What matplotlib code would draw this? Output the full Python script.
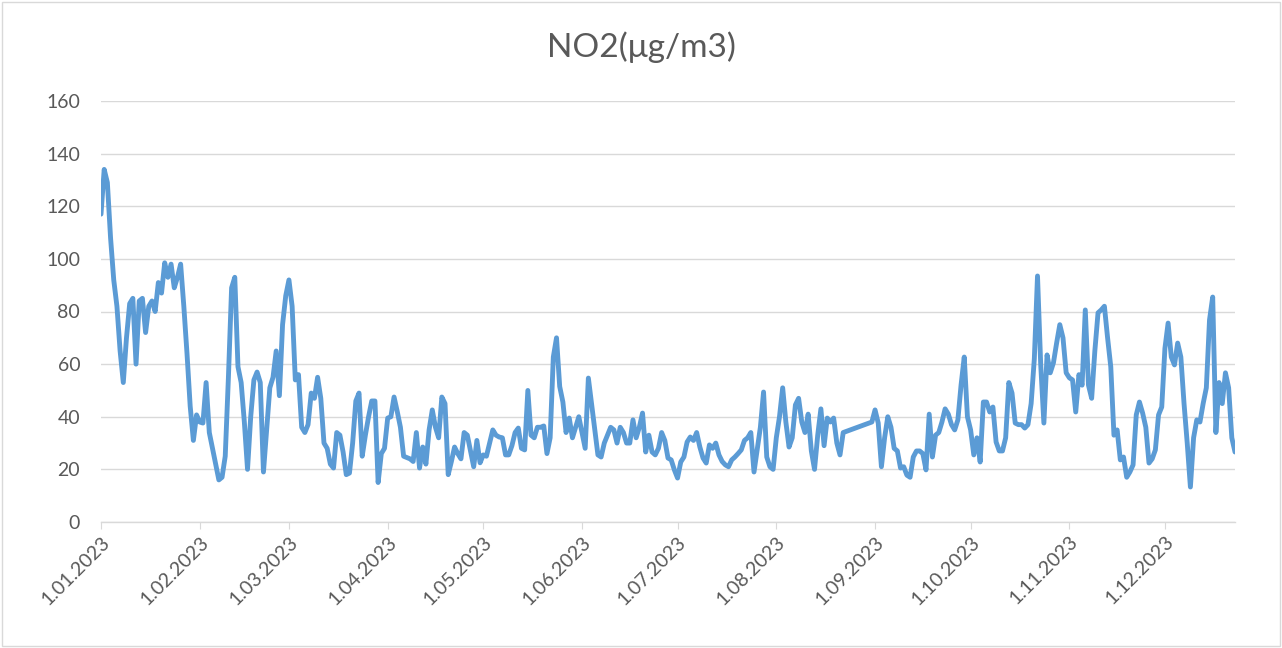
"""NO2 daily concentration chart, 2023 (Excel-style line chart)."""

import matplotlib

matplotlib.use("Agg")
import matplotlib.pyplot as plt
import pandas as pd
from matplotlib.patches import Rectangle

TITLE = "NO2(μg/m3)"

# Jan 1 .. Aug 22 (daily)
no2_part1 = [
    117, 134, 129, 108, 92, 82, 65, 53, 70, 83,
    85, 60, 84, 85, 72, 82, 84, 80, 91, 87,
    98.5, 93, 98, 89, 93, 98, 82, 64, 44, 31,
    40.7, 38, 37.6, 53, 34, 28, 22, 16, 17, 25,
    55, 89, 93, 59, 53, 38, 20, 40, 54, 57,
    53, 19, 35, 51, 55, 65, 48, 75, 86, 92,
    82, 54, 56, 36, 34, 37, 49, 47, 55, 47,
    30, 28, 22, 20.5, 34, 33, 26.6, 18, 18.6, 30,
    46, 49, 25, 33, 40, 46, 46, 15, 26, 28,
    39.5, 40, 47.5, 42, 36, 25, 24.5, 24, 23, 34,
    20.5, 28.5, 22, 35, 42.6, 36, 32, 47.5, 45, 18,
    23, 28.5, 26, 24, 34, 33, 27, 21, 31, 22.5,
    25.5, 25, 30, 35, 33, 32.3, 32, 25.5, 25.5, 29,
    34, 35.7, 28, 27.4, 50, 33, 32, 36, 36, 36.5,
    26, 32, 62.7, 70, 51.5, 45.6, 34, 39.5, 32, 36,
    40, 34, 28, 54.7, 45, 35, 25.5, 24.7, 30, 33,
    36, 35, 30, 36, 34, 30, 30, 38.8, 32, 36,
    41.4, 26.6, 33, 26.6, 25.5, 28, 34, 31, 24.3, 23.6,
    19.8, 16.7, 22.8, 24.7, 30.4, 32.3, 31, 34, 28.5, 24.3,
    22.4, 29.3, 28, 30, 25.5, 23, 21.7, 21, 23.6, 24.7,
    26, 27.4, 31, 32, 34, 19, 27.4, 36, 49.4, 24.7,
    21, 20, 32, 40, 51, 38, 28.5, 32, 44.5, 47,
    38, 34, 41, 27, 20, 33, 43, 29, 39.5, 38,
    39.5, 30, 25.5, 34,
]

# Aug 31 .. Dec 23 (daily, Aug 23-30 missing)
no2_part2 = [
    38, 42.6, 37.6, 21, 32, 40, 36, 28, 27, 20.5,
    21, 17.8, 17, 24.7, 27, 27, 26, 19.8, 41, 24.7,
    33, 34, 38, 43, 41, 37, 35, 38.8, 52, 62.7,
    40, 35, 25.5, 32, 22.8, 45.6, 45.6, 41.8, 43.7, 30.4,
    27, 27, 32, 53, 49, 37.6, 37, 37, 35.7, 37,
    45, 62, 93.5, 60, 37.6, 63.5, 56.7, 60.5, 68, 75,
    70, 56.7, 54.8, 54, 41.8, 56, 52, 80.6, 52, 47,
    65, 79.5, 80.6, 82, 70, 59, 33, 35, 23.6, 24.7,
    17, 19, 21.7, 40.7, 45.6, 41.4, 36, 22.4, 24, 27.4,
    40.7, 43.7, 66, 75.6, 62.7, 59.7, 68, 62.7, 45, 30,
    13.3, 32, 38.8, 38, 45, 51, 76.8, 85.5, 34, 53,
    45, 56.7, 51, 32, 26.6,
]

part1_start = "2023-01-01"
part2_start = "2023-08-31"
y_ticks = [0, 20, 40, 60, 80, 100, 120, 140, 160]

LINE_COLOR = "#5b9bd5"
TEXT_COLOR = "#595959"
GRID_COLOR = "#d9d9d9"

plt.rcParams["font.family"] = ["Lato", "DejaVu Sans"]

dates = pd.date_range(part1_start, periods=len(no2_part1), freq="D").append(
    pd.date_range(part2_start, periods=len(no2_part2), freq="D")
)
series = pd.Series(no2_part1 + no2_part2, index=dates)

fig = plt.figure(figsize=(12.82, 6.48), dpi=100)
ax = fig.add_axes([101 / 1282, 1 - 522 / 648, (1235 - 101) / 1282, (522 - 101) / 648])

ax.plot(series.index, series.values, color=LINE_COLOR, linewidth=3.5,
        solid_joinstyle="round", solid_capstyle="round")

ax.set_ylim(0, 160)
ax.set_yticks(y_ticks)
ax.set_xlim(series.index[0], series.index[-1])
month_starts = pd.date_range("2023-01-01", "2023-12-01", freq="MS")
ax.set_xticks(month_starts)
ax.set_xticklabels([f"{d.day}.{d.month:02d}.{d.year}" for d in month_starts],
                   rotation=45, ha="right", rotation_mode="anchor")
ax.minorticks_off()

ax.grid(axis="y", color=GRID_COLOR, linewidth=1)
ax.set_axisbelow(True)
for side in ["left", "right", "top"]:
    ax.spines[side].set_visible(False)
ax.spines["bottom"].set_color(GRID_COLOR)
ax.spines["bottom"].set_linewidth(1)
ax.tick_params(axis="y", length=0, pad=15, labelsize=14, labelcolor=TEXT_COLOR)
ax.tick_params(axis="x", length=5, color=GRID_COLOR, pad=3, labelsize=14, labelcolor=TEXT_COLOR)

fig.text(0.5, 1 - 47 / 648, TITLE, ha="center", va="center", fontsize=24, color=TEXT_COLOR)
fig.patches.append(Rectangle((2 / 1282, 2 / 648), 1 - 4 / 1282, 1 - 4 / 648,
                             transform=fig.transFigure, fill=False,
                             edgecolor=GRID_COLOR, linewidth=1))

fig.savefig("out.png", dpi=100)
plt.close(fig)
